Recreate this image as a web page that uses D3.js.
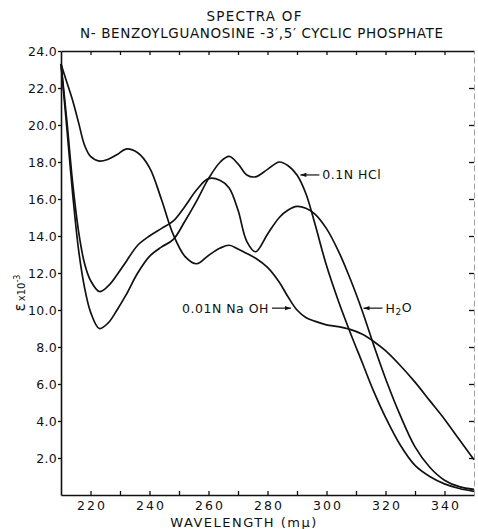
<!DOCTYPE html>
<html>
<head>
<meta charset="utf-8">
<script src="https://cdn.jsdelivr.net/npm/d3@7/dist/d3.min.js"></script>
<style>
  html, body { margin: 0; padding: 0; background: #fff; }
  svg { display: block; }
  text { font-family: "DejaVu Sans", sans-serif; fill: #111; }
</style>
</head>
<body>
<script>
// ---- data ----
const wavelengths = [210,212,214,216,218,220,223,226,229,232,236,240,244,248,252,256,260,264,267,270,273,276,280,284,287,290,293,296,300,304,308,312,316,320,325,330,335,340,345,350];
const hclValues   = [23.3,19.8,16.2,13.2,11.2,9.9,9.0,9.3,10.0,10.8,12.0,12.9,13.4,13.8,14.8,15.9,17.1,18.0,18.3,17.9,17.3,17.2,17.6,18.0,17.8,17.3,16.3,14.7,12.4,10.5,8.8,7.2,5.6,4.2,2.7,1.6,1.0,0.6,0.35,0.2];
const waterValues = [23.3,20.2,16.8,14.2,12.5,11.6,11.0,11.3,11.9,12.6,13.5,14.0,14.4,14.8,15.6,16.5,17.1,17.0,16.6,15.4,13.7,13.15,14.1,15.0,15.4,15.6,15.5,15.2,14.4,13.2,11.7,10.0,8.1,6.3,4.3,2.6,1.5,0.8,0.45,0.3];
const naohValues  = [23.3,22.3,21.3,20.1,18.9,18.3,18.05,18.15,18.4,18.7,18.5,17.7,16.0,14.1,12.9,12.5,12.95,13.35,13.5,13.3,13.05,12.8,12.3,11.5,10.7,10.0,9.6,9.4,9.2,9.1,8.95,8.7,8.3,7.8,7.0,6.1,5.1,4.1,3.0,1.9];
const xTicks      = [220,230,240,250,260,270,280,290,300,310,320,330,340];
const xTickLabels = [220,240,260,280,300,320,340];
const yTicks      = [2,4,6,8,10,12,14,16,18,20,22,24];
const titleLines  = ["SPECTRA  OF", "N- BENZOYLGUANOSINE -3\u2032,5\u2032 CYCLIC  PHOSPHATE"];
const seriesLabels = [
  {name: "0.1N  HCl",  tipW: 290.8, tipV: 17.3, side: "right"},
  {name: "0.01N  Na OH", tipW: 288.3, tipV: 10.1, side: "left"},
  {name: "H2O",        tipW: 312.2, tipV: 10.1, side: "right"}
];

// ---- layout ----
const W = 478, H = 529;
const margin = {top: 51, right: 4, bottom: 34, left: 61};
const iw = W - margin.left - margin.right;
const ih = H - margin.top - margin.bottom;

const svg = d3.select("body").append("svg").attr("width", W).attr("height", H);
svg.append("defs").append("marker")
  .attr("id", "arr").attr("viewBox", "0 0 10 10").attr("refX", 10).attr("refY", 5)
  .attr("markerWidth", 7).attr("markerHeight", 5).attr("orient", "auto")
  .append("path").attr("d", "M0,1.5 L10,5 L0,8.5 Z").attr("fill", "#111");

const g = svg.append("g").attr("transform", `translate(${margin.left},${margin.top})`);

const x = d3.scaleLinear().domain([210, 350]).range([0, iw]);
const y = d3.scaleLinear().domain([0, 24]).range([ih, 0]);

// axes
const axisStyle = sel => {
  sel.select(".domain").attr("stroke", "#111").attr("stroke-width", 1.6);
  sel.selectAll(".tick line").attr("stroke", "#111").attr("stroke-width", 1.3);
  sel.selectAll("text").attr("font-family", "DejaVu Sans").attr("font-size", 12.5)
     .attr("fill", "#111").attr("letter-spacing", "0.6px");
};

g.append("g").attr("transform", `translate(0,${ih})`)
  .call(d3.axisBottom(x).tickValues(xTicks).tickSizeInner(-4).tickSizeOuter(0).tickPadding(6)
        .tickFormat(d => xTickLabels.includes(d) ? d : ""))
  .call(axisStyle)
  .call(s => s.selectAll("text").attr("letter-spacing", "2px").attr("dx", "1px"));

g.append("g")
  .call(d3.axisTop(x).tickValues(xTicks).tickSizeInner(-4).tickSizeOuter(0).tickFormat(""))
  .call(axisStyle);

g.append("g")
  .call(d3.axisLeft(y).tickValues(yTicks).tickSizeInner(3).tickSizeOuter(0).tickPadding(1)
        .tickFormat(d3.format(".1f")))
  .call(axisStyle)
  .call(s => s.selectAll("text").attr("letter-spacing", "0.3px"));

g.append("g").attr("transform", `translate(${iw},0)`)
  .call(d3.axisLeft(y).tickValues(yTicks.slice(0, 11)).tickSizeInner(5).tickSizeOuter(0).tickFormat(""))
  .call(axisStyle)
  .call(s => s.select(".domain").attr("stroke", "#888").attr("stroke-width", 0.8).attr("stroke-dasharray", "6,3"));

// curves
const line = d3.line().x((d, i) => x(wavelengths[i])).y(d => y(d)).curve(d3.curveCatmullRom.alpha(0.5));
[hclValues, waterValues, naohValues].forEach(vals => {
  g.append("path").attr("d", line(vals)).attr("fill", "none")
    .attr("stroke", "#111").attr("stroke-width", 1.7).attr("stroke-linejoin", "round");
});

// labels with arrows
seriesLabels.forEach(l => {
  const tx = x(l.tipW), ty = y(l.tipV);
  const len = 20;
  const x0 = l.side === "right" ? tx + len : tx - len;
  g.append("line").attr("x1", x0).attr("y1", ty).attr("x2", tx + (l.side === "right" ? 1 : -1)).attr("y2", ty)
    .attr("stroke", "#111").attr("stroke-width", 1.2).attr("marker-end", "url(#arr)");
  const t = g.append("text").attr("y", ty).attr("dy", "0.36em").attr("font-size", 12.5)
    .attr("letter-spacing", "0.5px");
  if (l.side === "right") t.attr("x", x0 + 3).attr("text-anchor", "start");
  else t.attr("x", x0 - 3).attr("text-anchor", "end");
  if (l.name === "H2O") {
    t.append("tspan").text("H");
    t.append("tspan").attr("font-size", 9).attr("dy", "0.25em").text("2");
    t.append("tspan").attr("dy", "-0.2em").text("O");
  } else {
    t.text(l.name);
  }
});

// title
svg.append("text").attr("x", 254).attr("y", 21).attr("text-anchor", "middle")
  .attr("font-size", 13.5).attr("textLength", 95).attr("lengthAdjust", "spacing").text(titleLines[0]);
svg.append("text").attr("x", 261.5).attr("y", 38).attr("text-anchor", "middle")
  .attr("font-size", 13.5).attr("textLength", 363).attr("lengthAdjust", "spacing").text(titleLines[1]);

// x axis title
svg.append("text").attr("x", 244).attr("y", 527).attr("text-anchor", "middle")
  .attr("font-size", 13).attr("letter-spacing", "1.5px").text("WAVELENGTH  (m\u03bc)");

// y axis title
const yl = svg.append("text").attr("transform", "translate(25,293) rotate(-90)").attr("text-anchor", "middle");
yl.append("tspan").attr("font-size", 15).text("\u03b5");
yl.append("tspan").attr("font-size", 10).attr("dx", "2").text("x10");
yl.append("tspan").attr("font-size", 8).attr("dy", "-0.6em").text("-3");
</script>
</body>
</html>
